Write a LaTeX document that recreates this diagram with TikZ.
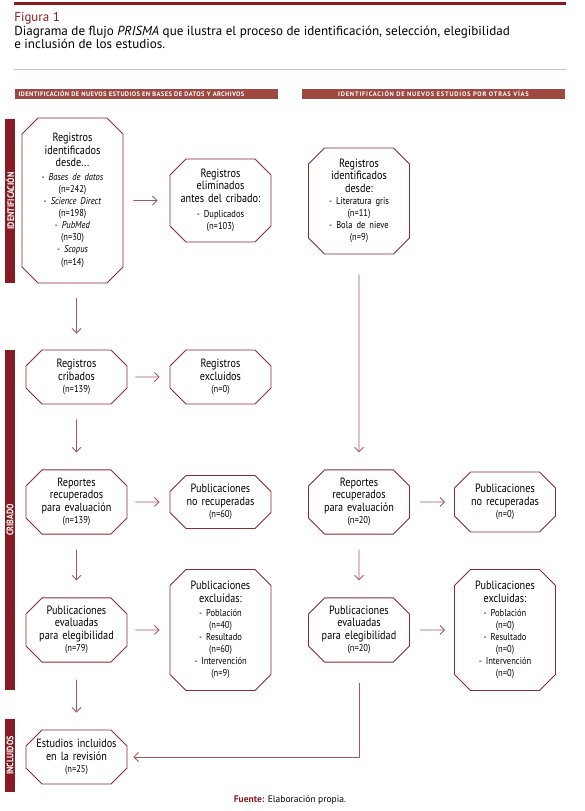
\documentclass[tikz,border=0pt]{standalone}
\usepackage{fontspec}
\setmainfont{PT Sans}[FakeStretch=0.85]
\newfontfamily\titfont{PT Sans}
\usetikzlibrary{shapes.misc,arrows.meta,positioning}
\definecolor{vino}{RGB}{136,26,33}
\definecolor{borde}{RGB}{140,42,48}
\definecolor{flecha}{RGB}{165,88,92}
\definecolor{barra}{RGB}{158,72,66}
\definecolor{gris}{RGB}{205,195,195}
\newcommand{\peq}{\fontsize{10}{12}\selectfont}

\begin{document}
\begin{tikzpicture}[x=1pt,y=-1pt,>={Straight Barb[length=4.5pt,width=9pt]},semithick]
			\tikzstyle{caja}=[draw=borde,line width=0.9pt,chamfered rectangle,chamfered rectangle sep=8pt,
				text width=84pt,align=center,inner sep=0pt,minimum width=101pt,font=\fontsize{12}{12.5}\selectfont]
			\tikzstyle{flecha}=[draw=flecha,line width=0.9pt,->]
			\tikzstyle{lateral}=[fill=vino,text=white,rotate=90,minimum height=10pt,inner sep=0pt,font=\bfseries\fontsize{9.5}{10}\selectfont]
			\tikzstyle{cabecera}=[fill=barra,text=white,minimum width=263pt,minimum height=9.5pt,inner sep=0pt,
				font=\titfont\bfseries\fontsize{6.5}{7}\selectfont\addfontfeature{LetterSpace=6}]
			\useasboundingbox (0,0) rectangle (585,811);
			% titulo
			\draw[vino,line width=2.2pt] (14,3.5) -- (566,3.5);
			\node[anchor=base west,inner sep=0pt,text=vino,font=\titfont\fontsize{13}{13.5}\selectfont] (fig) at (14,21) {Figura 1};
			\node[anchor=north west,inner sep=0pt,align=left,font=\titfont\fontsize{13.1}{13}\selectfont] (titulo) at (14,25.5)
				{Diagrama de flujo \textit{PRISMA} que ilustra el proceso de identificación, selección, elegibilidad\\e inclusión de los estudios.};
			\draw[gris,line width=1pt] (14,69) -- (566,69);
			% cabeceras y barras
			\node[cabecera,text width=255pt,align=left] (cabbd) at (146,94) {IDENTIFICACIÓN DE NUEVOS ESTUDIOS EN BASES DE DATOS Y ARCHIVOS};
			\node[cabecera,font=\titfont\bfseries\fontsize{6.5}{7}\selectfont\addfontfeature{LetterSpace=12}] (cabov) at (433.5,94) {IDENTIFICACIÓN DE NUEVOS ESTUDIOS POR OTRAS VÍAS};
			\node[lateral,minimum width=164pt] (latid) at (10,201) {IDENTIFICACIÓN};
			\node[lateral,minimum width=340pt] (latcr) at (10,520) {CRIBADO};
			\node[lateral,minimum width=73pt]  (latin) at (10,755.5) {INCLUIDOS};
			% columna izquierda
			\node[caja,minimum height=165pt] (idbd) at (72.5,200.5)
				{Registros\\identificados\\desde...\\[2pt]{\peq - \textit{Bases de datos}\\(n=242)\\- \textit{Science Direct}\\(n=198)\\- \textit{PubMed}\\(n=30)\\- \textit{Scopus}\\(n=14)}};
			\node[caja,minimum height=83pt] (elim)[right of=idbd,node distance=148pt]
				{Registros\\eliminados\\antes del cribado:\\[3pt]{\peq - Duplicados\\(n=103)}};
			\node[caja,minimum height=54pt] (crib) at (76.5,377) {Registros\\cribados\\{\peq (n=139)}};
			\node[caja,minimum height=54pt] (excl)[right of=crib,node distance=144pt] {Registros\\excluidos\\{\peq (n=0)}};
			\node[caja,minimum height=60pt] (recu)[below of=crib,node distance=125pt] {Reportes\\recuperados\\para evaluación\\{\peq (n=139)}};
			\node[caja,minimum height=53pt] (norec)[right of=recu,node distance=144pt] {Publicaciones\\no recuperadas\\{\peq (n=60)}};
			\node[caja,minimum height=60pt] (eval)[below of=recu,node distance=128pt] {Publicaciones\\evaluadas\\para elegibilidad\\{\peq (n=79)}};
			\node[caja,minimum height=121pt] (exc)[right of=eval,node distance=144pt]
				{Publicaciones\\excluidas:\\[2pt]{\peq - Población\\(n=40)\\- Resultado\\(n=60)\\- Intervención\\(n=9)}};
			\node[caja,minimum height=54pt] (inc)[below of=eval,node distance=127pt] {Estudios incluidos\\en la revisión\\{\peq (n=25)}};
			% columna derecha
			\node[caja,minimum height=106pt] (idov) at (359,201)
				{Registros\\identificados\\desde:\\{\peq - Literatura gris\\(n=11)\\- Bola de nieve\\(n=9)}};
			\node[caja,minimum height=60pt] (recov) at (359,502) {Reportes\\recuperados\\para evaluación\\{\peq (n=20)}};
			\node[caja,minimum height=60pt] (norecov)[right of=recov,node distance=146pt] {Publicaciones\\no recuperadas\\{\peq (n=0)}};
			\node[caja,minimum height=60pt] (evalov)[below of=recov,node distance=128pt] {Publicaciones\\evaluadas\\para elegibilidad\\{\peq (n=20)}};
			\node[caja,minimum height=121pt] (excov)[right of=evalov,node distance=146pt]
				{Publicaciones\\excluidas:\\[2pt]{\peq - Población\\(n=0)\\- Resultado\\(n=0)\\- Intervención\\(n=0)}};
			\node[font=\titfont\fontsize{9.5}{10}\selectfont] (fuente) at (290,800) {\textcolor{vino}{\textbf{Fuente:}} Elaboración propia.};
			\path
			(idbd) edge[flecha,shorten <=10pt,shorten >=12pt] (elim)
			(crib) edge[flecha,shorten <=8pt,shorten >=10pt] (excl)
			(recu) edge[flecha,shorten <=8pt,shorten >=10pt] (norec)
			(eval) edge[flecha,shorten <=8pt,shorten >=10pt] (exc)
			(recov) edge[flecha,shorten <=10pt,shorten >=9pt] (norecov)
			(evalov) edge[flecha,shorten <=10pt,shorten >=9pt] (excov)
			(crib) edge[flecha,shorten <=15pt,shorten >=17pt] (recu)
			(recu) edge[flecha,shorten <=15pt,shorten >=17pt] (eval)
			(eval) edge[flecha,shorten <=17pt,shorten >=17pt] (inc)
			(idov) edge[flecha,shorten <=20pt,shorten >=17pt] (recov)
			(recov) edge[flecha,shorten <=15pt,shorten >=17pt] (evalov);
			\draw[flecha,shorten <=15pt,shorten >=16pt] (idbd.south -| crib.north) -- (crib.north);
			\draw[flecha,shorten <=20pt,shorten >=6pt] (evalov.south) |- (inc.east);
		\end{tikzpicture}
\end{document}
